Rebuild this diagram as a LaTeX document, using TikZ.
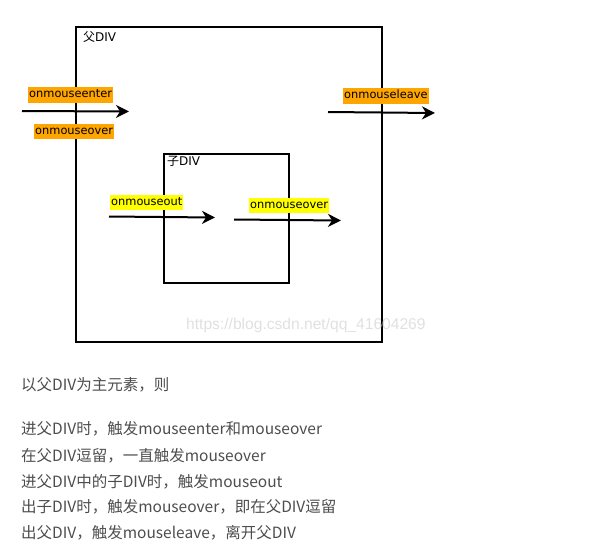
\documentclass[tikz,border=0pt]{standalone}
\usepackage{fontspec}
\setmainfont{DejaVu Sans}
\newfontfamily\cjk{Noto Sans CJK SC}
\newfontfamily\wmfont{Liberation Sans}
\usetikzlibrary{arrows.meta}
\definecolor{lborange}{HTML}{FFA500}
\definecolor{lbyellow}{HTML}{FFFF00}
\definecolor{bodytext}{HTML}{4D4D4D}
\begin{document}
\begin{tikzpicture}[x=1pt,y=-1pt,
  divbox/.style={draw=black, line width=2pt, anchor=north west, inner sep=0pt},
  divlabel/.style={anchor=north west, inner sep=0pt, font=\fontsize{12}{13}\selectfont},
  evlabel/.style={anchor=north west, inner xsep=1pt, inner ysep=0pt, minimum height=15.5pt, text height=9.5pt, text depth=3.5pt, font=\fontsize{11.4}{12}\selectfont},
  orangelab/.style={evlabel, fill=lborange},
  yellowlab/.style={evlabel, fill=lbyellow},
  arr/.style={line width=2pt, -{Stealth[length=13pt,width=13pt,inset=4pt]}},
  bodyline/.style={anchor=west, inner sep=0pt, text=bodytext, font=\cjk\fontsize{15.5}{18}\selectfont}]
\useasboundingbox (0,0) rectangle (602,558);
% boxes
\node[divbox, minimum width=306pt, minimum height=315pt] (parent) at (75,26) {};
\node[divbox, minimum width=125pt, minimum height=129pt] (child) at (163,153) {};
\node[divlabel] (ptitle) at (83,31) {{\cjk 父}DIV};
\node[divlabel] (ctitle) at (167,156) {{\cjk 子}DIV};
% labels
\node[orangelab] (lenter) at (28,87) {onmouseenter};
\node[orangelab] (lover1) at (34,123.5) {onmouseover};
\node[orangelab] (lleave) at (343,88) {onmouseleave};
\node[yellowlab] (lout) at (110,194.5) {onmouseout};
\node[yellowlab] (lover2) at (249,197.5) {onmouseover};
% arrows
\coordinate (a1s) at (22,111);
\coordinate (a1e) at (129,111.5);
\coordinate (a2s) at (109,216.5);
\coordinate (a2e) at (215,217.5);
\coordinate (a3s) at (234,219.5);
\coordinate (a3e) at (341,220.5);
\coordinate (a4s) at (328,112);
\coordinate (a4e) at (435,113);
\draw[arr] (a1s) -- (a1e);
\draw[arr] (a2s) -- (a2e);
\draw[arr] (a3s) -- (a3e);
\draw[arr] (a4s) -- (a4e);
% watermark
\node[anchor=west, inner sep=0pt, text=black!12, font=\wmfont\fontsize{15.6}{16}\selectfont] (wm) at (186,325) {https://blog.csdn.net/qq\_41604269};
% body text
\node[bodyline] (t0) at (21,385) {以父DIV为主元素，则};
\node[bodyline] (t1) at (21,429) {进父DIV时，触发mouseenter和mouseover};
\node[bodyline] (t2) at (21,455.5) {在父DIV逗留，一直触发mouseover};
\node[bodyline] (t3) at (21,481.5) {进父DIV中的子DIV时，触发mouseout};
\node[bodyline] (t4) at (21,507) {出子DIV时，触发mouseover，即在父DIV逗留};
\node[bodyline] (t5) at (21,533) {出父DIV，触发mouseleave，离开父DIV};
\end{tikzpicture}
\end{document}
